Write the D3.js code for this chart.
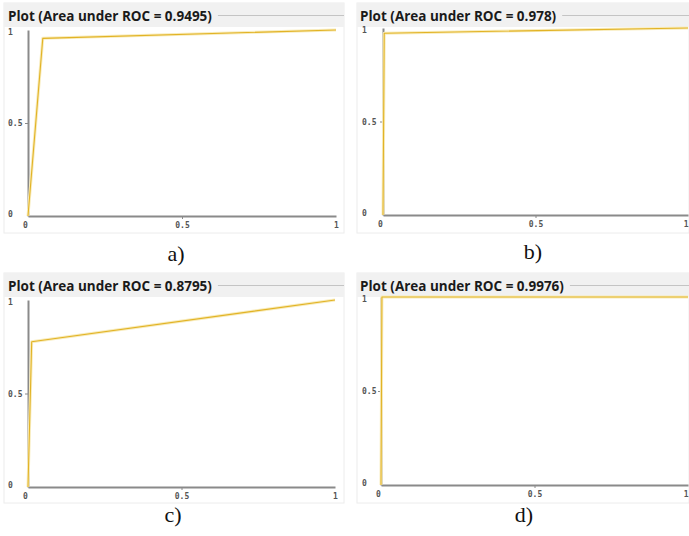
<!DOCTYPE html>
<html>
<head>
<meta charset="utf-8">
<script src="https://cdn.jsdelivr.net/npm/d3@7"></script>
<style>
  html, body { margin: 0; padding: 0; background: #ffffff; }
  svg { display: block; }
</style>
</head>
<body>
<svg id="chart" width="689" height="536"></svg>
<script>
// ---- data ----
const panelLabels = ["a)", "b)", "c)", "d)"];
const aucValues = ["0.9495", "0.978", "0.8795", "0.9976"];
const fprA = [0, 0.048, 1];
const tprA = [0, 0.955, 1];
const fprB = [0, 0.004, 1];
const tprB = [0, 0.972, 1];
const fprC = [0, 0.012, 1];
const tprC = [0, 0.777, 1];
const fprD = [0, 0.003, 1];
const tprD = [0, 1, 1];
const xTickValues = [0, 0.5, 1];
const yTickValues = [0, 0.5, 1];
const xTickLabels = ["0", "0.5", "1"];
const yTickLabels = ["0", "0.5", "1"];

const curves = [[fprA, tprA], [fprB, tprB], [fprC, tprC], [fprD, tprD]];

// ---- layout ----
const layouts = [
  { fx: 4,   fy: 3,   fw: 340, fh: 230, x0: 28,  x1: 336, y0: 216, y1: 30,  labX: 8,   tx: 10,  cap: [176, 261], edge: false },
  { fx: 357, fy: 3,   fw: 332, fh: 230, x0: 383, x1: 688, y0: 215, y1: 28,  labX: 362, tx: 360, cap: [533, 259], edge: true },
  { fx: 4,   fy: 273, fw: 340, fh: 230, x0: 28,  x1: 335, y0: 487, y1: 300, labX: 8,   tx: 10,  cap: [173, 522], edge: false },
  { fx: 357, fy: 273, fw: 332, fh: 230, x0: 381, x1: 688, y0: 485, y1: 297, labX: 362, tx: 360, cap: [524, 522], edge: true }
];

const svg = d3.select("#chart");
const axisColor = "#8a8a8a";
const curveColor = "#e2b326";

layouts.forEach((L, i) => {
  const g = svg.append("g");
  // frame
  g.append("rect").attr("x", L.fx).attr("y", L.fy).attr("width", L.fw).attr("height", L.fh)
    .attr("fill", "#ffffff").attr("stroke", "#ececec").attr("stroke-width", 1);
  // title band
  g.append("rect").attr("x", L.fx).attr("y", L.fy).attr("width", L.fw).attr("height", 24)
    .attr("fill", "#f1f1f1");
  const title = g.append("text")
    .attr("x", L.tx - (i % 2 === 0 ? 2 : 0)).attr("y", L.fy + 18)
    .attr("font-family", "'Open Sans', 'Noto Sans', sans-serif")
    .attr("font-weight", 700).attr("font-size", 13.5).attr("fill", "#1a1a1a")
    .text("Plot (Area under ROC = " + aucValues[i] + ")");
  const tw = title.node().getComputedTextLength();
  const tStart = +title.attr("x");
  g.append("line")
    .attr("x1", tStart + tw + 6).attr("x2", L.fx + L.fw)
    .attr("y1", L.fy + 12.5).attr("y2", L.fy + 12.5)
    .attr("stroke", "#c4c4c4").attr("stroke-width", 1);

  const x = d3.scaleLinear().domain([0, 1]).range([L.x0, L.x1]);
  const y = d3.scaleLinear().domain([0, 1]).range([L.y0, L.y1]);

  // x axis
  const xa = g.append("g").attr("transform", `translate(0,${L.y0})`)
    .call(d3.axisBottom(x).tickValues(xTickValues).tickSizeInner(3).tickSizeOuter(0).tickPadding(3)
      .tickFormat((d, k) => xTickLabels[k]));
  xa.select(".domain").attr("stroke", axisColor).attr("stroke-width", 2);
  xa.selectAll(".tick line").attr("stroke", axisColor).attr("stroke-width", 1)
    .attr("opacity", d => d === 0.5 ? 1 : 0);
  xa.selectAll(".tick text").attr("font-family", "'DejaVu Sans Mono', monospace")
    .attr("font-size", 8).attr("font-weight", "bold").attr("fill", "#555")
    .attr("x", d => d === 0 ? -3 : 0)
    .attr("text-anchor", d => (d === 1 && L.edge) ? "end" : "middle");

  // y axis
  const ya = g.append("g").attr("transform", `translate(${L.x0},0)`)
    .call(d3.axisLeft(y).tickValues(yTickValues).tickSizeInner(3).tickSizeOuter(0).tickPadding(3)
      .tickFormat((d, k) => yTickLabels[k]));
  ya.select(".domain").attr("stroke", axisColor).attr("stroke-width", 2);
  ya.selectAll(".tick line").attr("stroke", axisColor).attr("stroke-width", 1)
    .attr("opacity", d => d === 0.5 ? 1 : 0);
  ya.selectAll(".tick text").attr("font-family", "'DejaVu Sans Mono', monospace")
    .attr("font-size", 8).attr("font-weight", "bold").attr("fill", "#555")
    .attr("text-anchor", "start")
    .attr("x", L.labX - L.x0)
    .attr("dy", d => d === 1 ? "0.55em" : (d === 0 ? "0.1em" : "0.32em"));

  // ROC curve
  const [fx, ty] = curves[i];
  const pts = fx.map((v, k) => [v, ty[k]]);
  const line = d3.line().x(d => x(d[0])).y(d => y(d[1]));
  g.append("path").datum(pts).attr("d", line)
    .attr("fill", "none").attr("stroke", "#f8ecbc").attr("stroke-width", 3)
    .attr("stroke-linejoin", "round");
  g.append("path").datum(pts).attr("d", line)
    .attr("fill", "none").attr("stroke", curveColor).attr("stroke-width", 1.1)
    .attr("stroke-linejoin", "round");

  // caption
  svg.append("text").attr("x", L.cap[0]).attr("y", L.cap[1])
    .attr("text-anchor", "middle")
    .attr("font-family", "'Liberation Serif', 'DejaVu Serif', serif")
    .attr("font-size", 22).attr("fill", "#111")
    .text(panelLabels[i]);
});
</script>
</body>
</html>
